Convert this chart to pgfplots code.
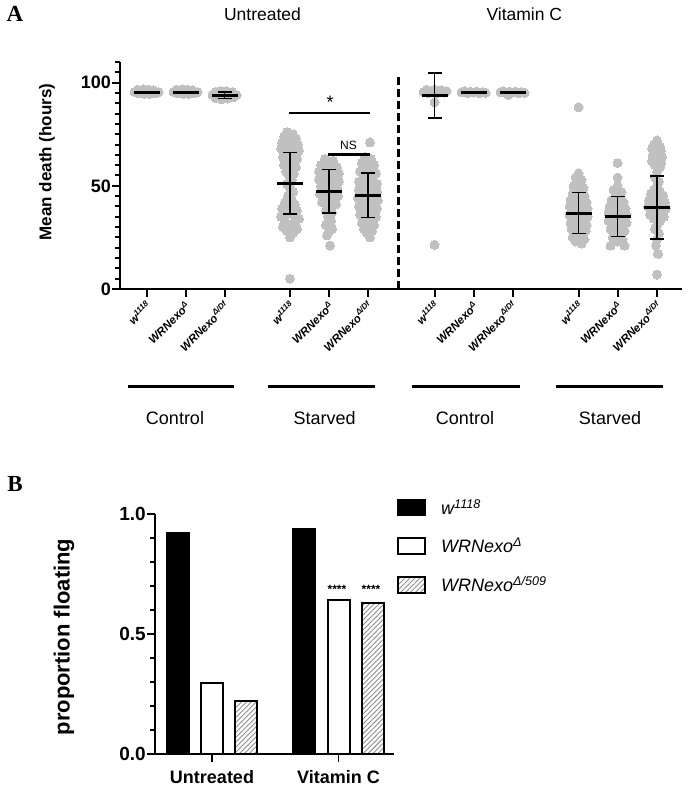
\documentclass[border=0pt]{standalone}
\usepackage{fontspec}
\setmainfont{Liberation Sans}
\newfontfamily\serifb{Liberation Serif}
\usepackage{pgfplots}
\pgfplotsset{compat=1.18}
\usetikzlibrary{patterns.meta}
\definecolor{dotgray}{RGB}{192,192,192}
\definecolor{hatchgray}{RGB}{140,140,140}
\newcommand{\fs}[1]{\fontsize{#1}{#1}\selectfont}

\begin{document}
\begin{tikzpicture}
\useasboundingbox (0pt,0pt) rectangle (689pt,790pt);

% ---------------- Panel A ----------------
\begin{axis}[
  at={(120pt,501pt)}, anchor=south west, scale only axis,
  width=562pt, height=227pt,
  xmin=120, xmax=682, ymin=0, ymax=110,
  clip=false, clip marker paths=true,
  axis lines=left,
  axis line style={line width=2.5pt,-},
  tick align=outside,
  major tick length=8pt, minor tick length=5pt,
  tick style={line width=2pt, black},
  ytick={0,50,100}, yticklabels={0,50,100},
  minor ytick={5,10,...,110},
  yticklabel style={font=\bfseries\fs{18}, inner sep=1pt},
  xtick={146.5,185.5,224.5,290,329,368,434.5,473.5,512.5,578.5,617.5,657},
  xticklabels={w\textsuperscript{1118}, WRNexo\textsuperscript{Δ}, WRNexo\textsuperscript{Δ/Df},
               w\textsuperscript{1118}, WRNexo\textsuperscript{Δ}, WRNexo\textsuperscript{Δ/Df},
               w\textsuperscript{1118}, WRNexo\textsuperscript{Δ}, WRNexo\textsuperscript{Δ/Df},
               w\textsuperscript{1118}, WRNexo\textsuperscript{Δ}, WRNexo\textsuperscript{Δ/Df}},
  xticklabel style={rotate=45, anchor=north east, font=\bfseries\itshape\fs{11.5}, inner sep=1pt, xshift=-2pt},
  whisker/.style={black, line width=1.5pt, mark=none, forget plot},
]
% --- individual points
\addplot[only marks, mark=*, mark size=4.5pt, draw=dotgray, fill=dotgray, mark options={solid, draw=dotgray, fill=dotgray, line width=0pt}] coordinates {
(134.5,95.5)(137.5,96.5)(138.5,94.8)(141.5,95.8)(143.5,96.8)(144.5,94.5)(146.5,95.5)(148.5,96.5)(149.5,94.6)(151.5,95.7)(153.5,96.3)(155.5,94.9)(158.5,95.4)
(173.5,95.5)(176.5,96.5)(177.5,94.8)(180.5,95.8)(182.5,96.8)(183.5,94.5)(185.5,95.5)(187.5,96.5)(188.5,94.6)(190.5,95.7)(192.5,96.3)(194.5,94.9)(197.5,95.4)
(212.5,94)(215.5,95.5)(215.5,92.5)(218.5,94)(220.5,96)(221.5,92)(224.5,94)(226.5,95.8)(227.5,92.3)(229.5,94.2)(232.5,95.5)(233.5,92.8)(236.5,94)
(287,76)(293,75)(284,74)(296,73)(290,72)(282,71)(298,70)(287,70)(293,69)(281,68)(299,67)(286,67)(294,66)(290,65)(283,64)(297,63)(288,62)(293,61)(284,60)(296,59)(290,58)(286,57)(294,56)(289,55)(292,53)(287,51)(290,49)(293,47)(288,45)(292,43)(285,42)(295,41)(290,40)(282,39)(297,38)(287,37)(293,36)(281,35)(299,34)(285,33)(295,32)(290,31)(283,30)(297,29)(287,28)(293,27)(290,25)(290,5)
(325,63)(333,62)(329,61)(321,60)(337,59)(326,58)(332,58)(319,57)(339,56)(323,55)(335,55)(329,54)(319,53)(339,52)(325,52)(333,51)(321,50)(337,49)(329,49)(324,48)(334,47)(320,46)(338,45)(329,45)(325,44)(333,43)(322,42)(336,41)(329,40)(326,38)(332,37)(328,35)(331,33)(326,31)(332,29)(329,28)(327,26)(330,21)
(370,71)(365,64)(371,63)(368,62)(362,61)(374,60)(366,59)(371,58)(360,57)(376,56)(364,55)(372,54)(368,53)(359,52)(377,51)(363,51)(373,50)(367,49)(359,48)(377,47)(364,47)(372,46)(368,45)(358,44)(378,43)(363,43)(373,42)(368,41)(359,40)(377,39)(364,39)(372,38)(368,37)(360,36)(376,35)(365,34)(371,33)(362,32)(374,31)(368,30)(364,29)(372,28)(367,27)(370,25)
(423.5,95.5)(426.5,96.5)(428.5,94.8)(431.5,95.8)(434.5,96.5)(436.5,94.8)(438.5,95.8)(441.5,96.3)(444.5,95.2)(446.5,95.8)(434.5,90.5)(434.5,21.4)
(461.5,95.3)(464.5,95.8)(467.5,94.9)(470.5,95.6)(473.5,95.2)(476.5,95.7)(479.5,94.9)(482.5,95.5)(485.5,95.1)
(500.5,95.3)(503.5,95.8)(506.5,94.9)(508.5,94.0)(509.5,95.6)(512.5,95.2)(515.5,95.7)(518.5,94.9)(521.5,95.5)(524.5,95.1)
(578.5,88)(578.5,56)(575.5,54)(581.5,53)(578.5,51)(573.5,50)(583.5,49)(576.5,48)(581.5,47)(572.5,46)(584.5,45)(578.5,44)(570.5,43)(586.5,42)(575.5,42)(581.5,41)(569.5,40)(587.5,39)(574.5,39)(582.5,38)(578.5,37)(569.5,36)(587.5,35)(573.5,35)(583.5,34)(578.5,33)(570.5,32)(586.5,31)(575.5,31)(581.5,30)(571.5,29)(585.5,28)(578.5,28)(574.5,27)(582.5,26)(572.5,25)(584.5,24)(578.5,24)(575.5,23)(581.5,22)
(617.5,61)(617.5,54)(617.5,50)(613.5,48)(621.5,47)(615.5,45)(620.5,44)(611.5,43)(623.5,42)(617.5,41)(609.5,40)(625.5,39)(614.5,39)(620.5,38)(608.5,37)(626.5,36)(612.5,36)(622.5,35)(617.5,34)(608.5,33)(626.5,32)(613.5,32)(621.5,31)(617.5,30)(610.5,29)(624.5,28)(615.5,27)(620.5,26)(612.5,25)(622.5,24)(617.5,23)(610.5,21)(624.5,21)
(657,72)(654,70)(660,69)(652,68)(661,67)(657,66)(653,65)(662,64)(657,63)(652,62)(661,61)(655,60)(660,59)(657,57)(655,54)(659,52)(657,50)(654,48)(660,47)(651,46)(663,45)(657,44)(649,43)(665,42)(654,42)(660,41)(648,40)(666,39)(652,39)(662,38)(657,37)(650,36)(664,35)(654,34)(660,33)(657,31)(655,29)(659,27)(657,24)(656,21)(658,17)(657,7)
};
% --- SD whiskers (mean - SD to mean + SD)
\addplot[whisker] coordinates {(146.5,94.9)(146.5,95.7)};
\addplot[whisker] coordinates {(185.5,94.9)(185.5,95.7)};
\addplot[whisker] coordinates {(224.5,92.4)(224.5,95.4)};
\addplot[whisker] coordinates {(290,36.3)(290,66.1)};
\addplot[whisker] coordinates {(329,36.8)(329,58.0)};
\addplot[whisker] coordinates {(368,34.7)(368,56.1)};
\addplot[whisker] coordinates {(434.5,82.8)(434.5,104.6)};
\addplot[whisker] coordinates {(473.5,95.0)(473.5,95.6)};
\addplot[whisker] coordinates {(512.5,95.0)(512.5,95.6)};
\addplot[whisker] coordinates {(578.5,26.8)(578.5,46.8)};
\addplot[whisker] coordinates {(617.5,25.5)(617.5,44.7)};
\addplot[whisker] coordinates {(657,24.2)(657,54.8)};
% --- SD caps
\addplot[only marks, mark=-, mark size=7pt, mark options={solid, draw=black, line width=1.5pt}] coordinates {
(146.5,94.9)(146.5,95.7)(185.5,94.9)(185.5,95.7)(224.5,92.4)(224.5,95.4)
(290,36.3)(290,66.1)(329,36.8)(329,58.0)(368,34.7)(368,56.1)
(434.5,82.8)(434.5,104.6)(473.5,95.0)(473.5,95.6)(512.5,95.0)(512.5,95.6)
(578.5,26.8)(578.5,46.8)(617.5,25.5)(617.5,44.7)(657,24.2)(657,54.8)
};
% --- means
\addplot[only marks, mark=-, mark size=13pt, mark options={solid, draw=black, line width=3pt}] coordinates {
(146.5,95.3)(185.5,95.3)(224.5,93.9)(290,51.2)(329,47.4)(368,45.4)
(434.5,93.7)(473.5,95.3)(512.5,95.3)(578.5,36.8)(617.5,35.1)(657,39.5)
};
\draw[line width=3pt, dash pattern=on 8pt off 4pt] (axis cs:398,0) -- (axis cs:398,102.7);
\draw[line width=2.8pt] (axis cs:289,85.3) -- (axis cs:370,85.3);
\node[font=\fs{18}] at (axis cs:330,90.5) {*};
\draw[line width=2.8pt] (axis cs:328,65) -- (axis cs:370,65);
\node[font=\fs{12}] at (axis cs:348.5,69.6) {NS};
\end{axis}

% panel A annotations
\node[font=\serifb\bfseries\fs{23}] at (15pt,776pt) {A};
\node[font=\fs{17.5}] at (262.5pt,775.5pt) {Untreated};
\node[font=\fs{17.5}] at (524.3pt,775.5pt) {Vitamin C};
\node[font=\bfseries\fs{17}, rotate=90] at (47pt,628pt) {Mean death (hours)};
\draw[line width=3pt] (128pt,403pt) -- (234pt,403pt);
\draw[line width=3pt] (268pt,403pt) -- (375pt,403pt);
\draw[line width=3pt] (412pt,403pt) -- (520pt,403pt);
\draw[line width=3pt] (556pt,403pt) -- (663pt,403pt);
\node[font=\fs{18}] at (175pt,372pt) {Control};
\node[font=\fs{18}] at (324.7pt,372pt) {Starved};
\node[font=\fs{18}] at (465pt,372pt) {Control};
\node[font=\fs{18}] at (610pt,372pt) {Starved};

% ---------------- Panel B ----------------
\begin{axis}[
  at={(155pt,36pt)}, anchor=south west, scale only axis,
  width=239pt, height=240pt,
  xmin=155, xmax=394, ymin=0, ymax=1,
  clip=false,
  axis lines=left,
  axis line style={line width=2pt,-},
  tick align=outside,
  major tick length=8pt, minor tick length=5pt,
  tick style={line width=1.8pt, black},
  ytick={0,0.5,1}, yticklabels={0.0,0.5,1.0},
  minor ytick={0.1,0.2,0.3,0.4,0.6,0.7,0.8,0.9},
  yticklabel style={font=\bfseries\fs{19}, inner sep=1pt},
  xtick={212,338.5}, xticklabels={Untreated, Vitamin C},
  xticklabel style={font=\bfseries\fs{18}, yshift=-5pt},
  legend style={at={(1.0126,1.07)}, anchor=north west, draw=none, fill=none,
     font=\itshape\fs{18}, row sep=18pt, column sep=13pt, inner sep=0pt,
     nodes={inner sep=2pt}},
  legend cell align=left,
]
\addplot[ybar, bar width=22, bar shift=0pt, fill=black, draw=black, line width=1.5pt,
  legend image code/.code={\draw[fill=black, draw=black, line width=1.5pt] (0pt,-8pt) rectangle (27pt,8pt);}]
  coordinates {(178,0.92) (304,0.9375)};
\addlegendentry{w\textsuperscript{1118}}
\addplot[ybar, bar width=22, bar shift=0pt, fill=white, draw=black, line width=2pt,
  legend image code/.code={\draw[fill=white, draw=black, line width=2pt] (0pt,-8pt) rectangle (27pt,8pt);}]
  coordinates {(212,0.295) (338.5,0.64)};
\addlegendentry{WRNexo\textsuperscript{Δ}}
\addplot[ybar, bar width=22, bar shift=0pt, draw=black, line width=2pt,
  pattern={Lines[angle=45,distance=3.5pt,line width=0.9pt]}, pattern color=hatchgray,
  legend image code/.code={\draw[pattern={Lines[angle=45,distance=3.5pt,line width=0.9pt]}, pattern color=hatchgray, draw=black, line width=2pt] (0pt,-8pt) rectangle (27pt,8pt);}]
  coordinates {(246,0.222) (373,0.628)};
\addlegendentry{WRNexo\textsuperscript{Δ/509}}
\node[font=\bfseries\fs{12}] at (axis cs:337,0.6875) {****};
\node[font=\bfseries\fs{12}] at (axis cs:371,0.6875) {****};
\end{axis}

\node[font=\serifb\bfseries\fs{23}] at (15pt,306pt) {B};
\node[font=\bfseries\fs{22}, rotate=90] at (64pt,153pt) {proportion floating};

\end{tikzpicture}
\end{document}
